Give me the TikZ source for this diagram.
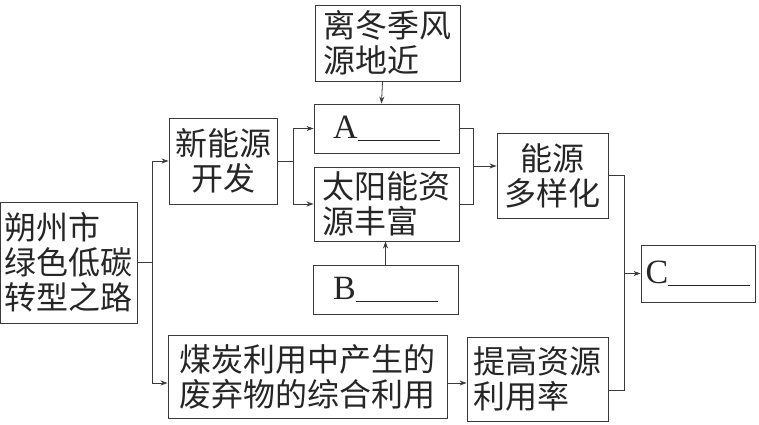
\documentclass[tikz,border=0pt]{standalone}
\usepackage{fontspec}
\setmainfont{Liberation Serif}
\newfontfamily\cjk{Noto Sans CJK SC}
\usepackage{tikz}
\usetikzlibrary{arrows.meta,positioning,calc}
\definecolor{lineink}{HTML}{3A3A3A}
\definecolor{textink}{HTML}{262626}
\tikzset{
  textbox/.style={
    rectangle, draw=lineink, line width=0.9pt, inner sep=2pt,
    align=#1, text=textink,
    font=\cjk\fontsize{32}{35}\selectfont
  },
  textbox/.default=left,
  blankbox/.style={
    rectangle, draw=lineink, line width=0.9pt, inner sep=2pt,
    text=textink, font=\fontsize{34}{38}\selectfont
  },
  linkarrow/.style={-{Stealth[length=7pt,width=5pt]}, line width=0.8pt, draw=lineink},
  linkline/.style={line width=0.8pt, draw=lineink}
}
\newcommand{\blankline}{\rule[-3pt]{82pt}{1.1pt}}

\begin{document}
\begin{tikzpicture}[x=1pt,y=-1pt]
\useasboundingbox (0,0) rectangle (759,424);
\node[textbox, minimum width=137pt, minimum height=121pt] (root) at (68.5,262.5) {朔州市\\绿色低碳\\转型之路};
\node[textbox=center, minimum width=108pt, minimum height=86pt] (newenergy) at (223,161) {新能源\\开发};
\node[textbox, minimum width=279pt, minimum height=83pt] (coal) at (307.5,377) {煤炭利用中产生的\\废弃物的综合利用};
\node[textbox, minimum width=145pt, minimum height=76pt] (monsoon) at (387.5,43) {离冬季风\\源地近};
\node[blankbox, minimum width=145pt, minimum height=49pt] (A) at (386.5,128.5) {A\blankline};
\node[textbox, minimum width=145pt, minimum height=74pt] (solar) at (386.5,204) {太阳能资\\源丰富};
\node[blankbox, minimum width=145pt, minimum height=49pt] (B) at (385.5,289.5) {B\blankline};
\node[textbox=center, minimum width=111pt, minimum height=85pt] (diverse) at (552.5,175.5) {能源\\多样化};
\node[textbox, minimum width=141pt, minimum height=84pt] (efficiency) at (537.5,379) {提高资源\\利用率};
\node[blankbox, minimum width=114pt, minimum height=57pt] (C) at (698,273.5) {C\blankline};

% left split
\coordinate (rootsplit) at (152,262.5);
\draw[linkline] (root.east) -- (rootsplit);
\draw[linkarrow] (rootsplit) |- (newenergy.west);
\draw[linkarrow] (rootsplit) |- ([yshift=-6pt]coal.west);

% new energy split
\coordinate (devsplit) at (293,161);
\draw[linkline] (newenergy.east) -- (devsplit);
\draw[linkarrow] (devsplit) |- (A.west);
\draw[linkarrow] (devsplit) |- (solar.west);
\draw[linkarrow] ([xshift=-5pt]monsoon.south) -- ([xshift=-5pt]A.north);
\draw[linkarrow] (B.north) -- (B.north |- solar.south);

% join to diversification
\coordinate (srcjoin) at (473,166);
\draw[linkline] (A.east) -| (srcjoin);
\draw[linkline] (solar.east) -| (srcjoin);
\draw[linkarrow] (srcjoin) -- (srcjoin -| diverse.west);
\draw[linkarrow] ([yshift=-6pt]coal.east) -- ([yshift=-4pt]efficiency.west);

% join to C
\coordinate (pathjoin) at (624,273.5);
\draw[linkline] (diverse.east) -| (pathjoin);
\draw[linkline] ([yshift=-11pt]efficiency.east) -| (pathjoin);
\draw[linkarrow] (pathjoin) -- (C.west);
\end{tikzpicture}
\end{document}
